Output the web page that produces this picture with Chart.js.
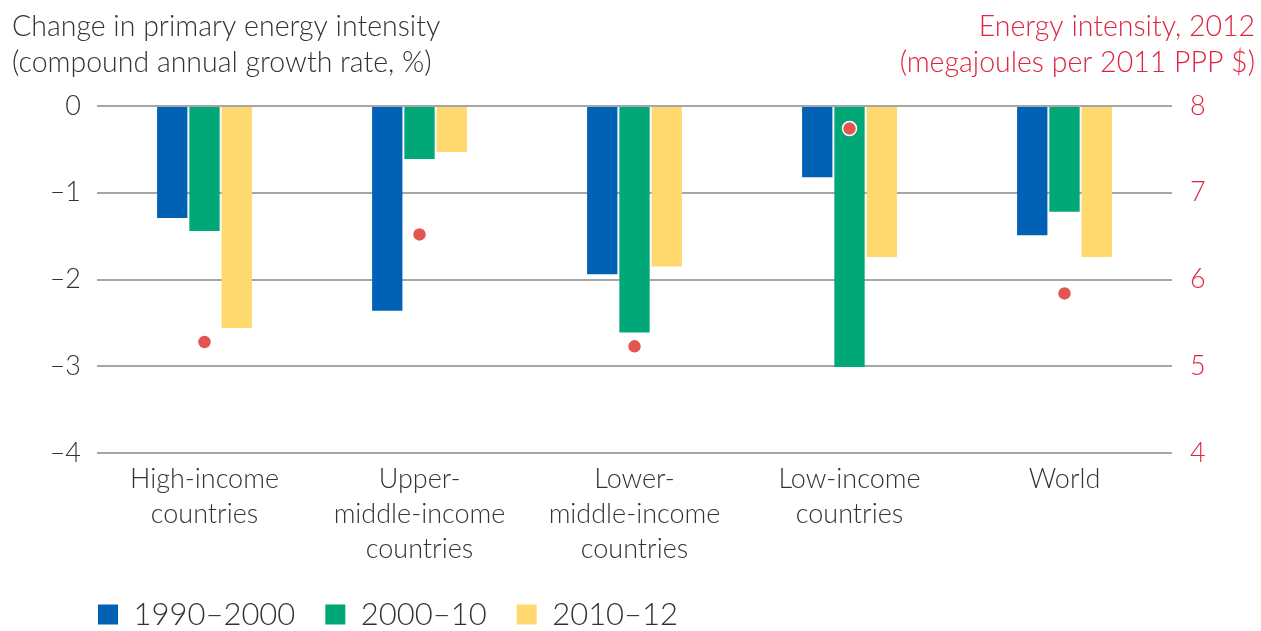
<!DOCTYPE html>
<html>
<head>
<meta charset="utf-8">
<script src="https://cdn.jsdelivr.net/npm/chart.js@4/dist/chart.umd.min.js"></script>
<style>
html,body{margin:0;padding:0;background:#fff;}
#wrap{width:1261px;height:631px;position:relative;}
</style>
</head>
<body>
<div id="wrap"><canvas id="c"></canvas></div>
<script>
const categories = [
  ["High-income", "countries"],
  ["Upper-", "middle-income", "countries"],
  ["Lower-", "middle-income", "countries"],
  ["Low-income", "countries"],
  ["World"]
];
const series1990_2000 = [-1.29, -2.36, -1.94, -0.82, -1.49];
const series2000_10   = [-1.44, -0.61, -2.61, -3.01, -1.22];
const series2010_12   = [-2.56, -0.53, -1.85, -1.74, -1.74];
const energyIntensity2012 = [5.28, 6.52, 5.23, 7.74, 5.84];
const seriesNames = ["1990–2000", "2000–10", "2010–12"];
const leftTicks = [0, -1, -2, -3, -4];
const rightTicks = [8, 7, 6, 5, 4];

const FONT = "Lato, 'Noto Sans', sans-serif";
const TEXT = "#333333";
const RED = "#e2233f";

const titles = {
  id: 'titles',
  afterLayout(chart) {
    if (chart.legend) { chart.legend.left += 68; chart.legend.right += 68; }
  },
  afterDraw(chart) {
    const ctx = chart.ctx;
    ctx.save();
    ctx.font = "300 28.5px " + FONT;
    ctx.textBaseline = 'alphabetic';
    ctx.fillStyle = TEXT;
    ctx.textAlign = 'left';
    ctx.fillText("Change in primary energy intensity", 12, 36);
    ctx.fillText("(compound annual growth rate, %)", 12, 72);
    ctx.fillStyle = RED;
    ctx.textAlign = 'right';
    ctx.fillText("Energy intensity, 2012", 1255, 36);
    ctx.fillText("(megajoules per 2011 PPP $)", 1255, 72);
    ctx.restore();
  }
};

new Chart(document.getElementById('c'), {
  type: 'bar',
  data: {
    labels: categories,
    datasets: [
      {
        type: 'line', label: 'Energy intensity', data: energyIntensity2012,
        yAxisID: 'yR', showLine: false, order: 0,
        pointRadius: 7, pointHoverRadius: 7,
        pointBackgroundColor: '#e35550', pointBorderColor: '#ffffff', pointBorderWidth: 1.5
      },
      { label: seriesNames[0], data: series1990_2000, backgroundColor: '#0061b5', borderWidth: 0, yAxisID: 'y', order: 1, barPercentage: 0.94, categoryPercentage: 0.45 },
      { label: seriesNames[1], data: series2000_10, backgroundColor: '#00a878', borderWidth: 0, yAxisID: 'y', order: 1, barPercentage: 0.94, categoryPercentage: 0.45 },
      { label: seriesNames[2], data: series2010_12, backgroundColor: '#ffd96e', borderWidth: 0, yAxisID: 'y', order: 1, barPercentage: 0.94, categoryPercentage: 0.45 }
    ]
  },
  options: {
    responsive: true,
    maintainAspectRatio: false,
    animation: false,
    layout: { padding: { top: 106, left: 0, right: 0, bottom: -9 } },
    plugins: {
      tooltip: { enabled: false },
      legend: {
        position: 'bottom', align: 'start',
        labels: {
          filter: (item) => item.datasetIndex > 0,
          boxWidth: 20, boxHeight: 20, padding: 30,
          color: TEXT, font: { family: FONT, size: 31, weight: 300 }
        }
      }
    },
    scales: {
      x: {
        afterFit: (s) => { s.height = 116; },
        grid: { display: false, drawTicks: false },
        border: { display: false },
        ticks: { color: TEXT, font: { family: FONT, size: 27, weight: 300, lineHeight: 1.3 }, padding: 9, maxRotation: 0, autoSkip: false }
      },
      y: {
        position: 'left', min: -4, max: 0,
        afterFit: (s) => { s.width = 97; },
        afterBuildTicks: (s) => { s.ticks = leftTicks.map(v => ({ value: v })); },
        grid: { color: '#a6a6a6', lineWidth: 2, drawTicks: false },
        border: { display: false },
        ticks: { color: TEXT, font: { family: FONT, size: 27, weight: 300 }, padding: 16,
          callback: (v) => v === 0 ? '0' : '–' + Math.abs(v) }
      },
      yR: {
        position: 'right', min: 4, max: 8,
        afterFit: (s) => { s.width = 89; },
        afterBuildTicks: (s) => { s.ticks = rightTicks.map(v => ({ value: v })); },
        grid: { display: false, drawTicks: false },
        border: { display: false },
        ticks: { color: RED, font: { family: FONT, size: 27, weight: 300 }, padding: 18 }
      }
    }
  },
  plugins: [titles]
});
</script>
</body>
</html>
